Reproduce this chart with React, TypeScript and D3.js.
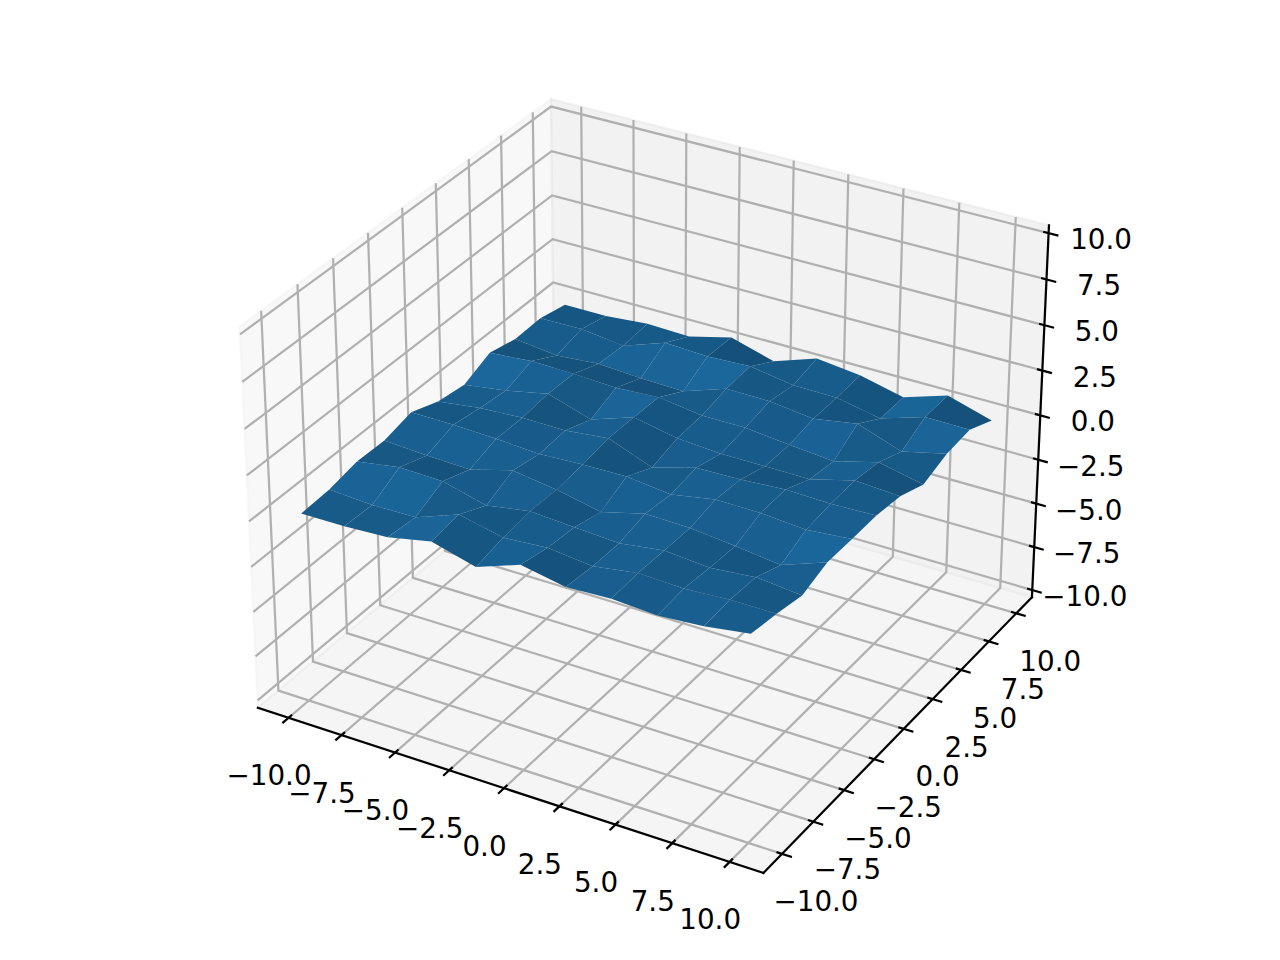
import React from "react";
import * as d3 from "d3";

const gridX = [-10, -8, -6, -4, -2, 0, 2, 4, 6, 8, 10];
const gridY = [-10, -8, -6, -4, -2, 0, 2, 4, 6, 8, 10];
// one row per y value, left to right along x
const zRow0 = [0.05, 0.07, 0.19, 0.69, 0.04, 0.89, 0.43, 0.55, 0.4, 0.58, 0.93];
const zRow1 = [0.14, 0.0, 0.04, 0.9, 0.37, 0.55, 0.27, 0.65, 0.55, 0.69, 0.69];
const zRow2 = [0.46, 0.85, 0.78, 0.16, 0.56, 0.41, 0.26, 0.59, 0.39, 0.62, 0.38];
const zRow3 = [0.42, 0.28, 0.21, 0.86, 0.5, 0.0, 0.61, 0.56, 0.3, 0.0, 0.88];
const zRow4 = [0.81, 0.79, 0.71, 0.55, 0.67, 0.71, 0.43, 0.87, 0.85, 0.66, 0.88];
const zRow5 = [0.23, 0.54, 0.68, 0.66, 0.92, 0.0, 0.68, 0.74, 0.89, 0.82, 0.9];
const zRow6 = [0.0, 0.35, 0.85, 0.08, 0.9, 0.41, 0.24, 0.25, 0.23, 0.87, 0.72];
const zRow7 = [0.65, 0.85, 0.8, 0.69, 0.83, 0.49, 0.49, 0.24, 0.01, 0.66, 0.14];
const zRow8 = [0.3, 0.01, 0.21, 0.06, 0.0, 0.81, 0.79, 0.49, 0.9, 0.05, 0.62];
const zRow9 = [0.34, 0.39, 0.09, 0.92, 0.8, 0.91, 0.51, 0.49, 0.0, 0.77, 0.75];
const zRow10 = [0.0, 0.0, 0.2, 0.13, 0.73, 0.04, 0.86, 0.58, 0.02, 0.8, 0.08];
const zRows = [zRow0, zRow1, zRow2, zRow3, zRow4, zRow5, zRow6, zRow7, zRow8, zRow9, zRow10];
const tickValues = [-10, -7.5, -5, -2.5, 0, 2.5, 5, 7.5, 10];

const XY_LIM = 11, Z_LIM = 10;
const XY_EDGE = 11.4583, Z_EDGE = 10.4167;
const TICK_DELTA = 1.91;
const BOX = [1.14286, 1.14286, 0.85714];

const wx = d3.scaleLinear().domain([-XY_LIM, XY_LIM]).range([0, BOX[0]]);
const wy = d3.scaleLinear().domain([-XY_LIM, XY_LIM]).range([0, BOX[1]]);
const wz = d3.scaleLinear().domain([-Z_LIM, Z_LIM]).range([0, BOX[2]]);
const px = d3.scaleLinear().domain([0, 1]).range([652.1, 652.1 + 4864]);
const py = d3.scaleLinear().domain([0, 1]).range([467.4, 467.4 - 4867]);

const R = BOX.map((b) => b / 2);
const elev = (30 * Math.PI) / 180, azim = (-60 * Math.PI) / 180, dist = 10;
const W = [Math.cos(elev) * Math.cos(azim), Math.cos(elev) * Math.sin(azim), Math.sin(elev)];
const EYE = R.map((r, i) => r + dist * W[i]);
const U = [-W[1], W[0], 0].map((v) => v / Math.hypot(W[0], W[1]));
const V = [W[1] * U[2] - W[2] * U[1], W[2] * U[0] - W[0] * U[2], W[0] * U[1] - W[1] * U[0]];
const dot = (a: number[], b: number[]) => a[0] * b[0] + a[1] * b[1] + a[2] * b[2];

function view(x: number, y: number, z: number) {
  const d = [wx(x) - EYE[0], wy(y) - EYE[1], wz(z) - EYE[2]];
  return { xe: dot(U, d), ye: dot(V, d), ze: dot(W, d) };
}
function proj(x: number, y: number, z: number): [number, number] {
  const { xe, ye, ze } = view(x, y, z);
  return [px(xe / -ze), py(ye / -ze)];
}
const lineGen = d3.line<[number, number, number]>()
  .x((p) => proj(p[0], p[1], p[2])[0])
  .y((p) => proj(p[0], p[1], p[2])[1]);
const closed = (pts: [number, number, number][]) => lineGen(pts) + "Z";

const LIGHT = [-0.6667, -0.6667, 0.3333];
const shadeIn = d3.scaleLinear().domain([-1, 1]).range([0.3, 1]);
const BASE = d3.rgb("#1f77b4");

type Cell = { d: string; fill: string; depth: number };
const cells: Cell[] = [];
for (let j = 0; j < gridY.length - 1; j++) {
  for (let i = 0; i < gridX.length - 1; i++) {
    const q: [number, number, number][] = [
      [gridX[i], gridY[j], zRows[j][i]],
      [gridX[i + 1], gridY[j], zRows[j][i + 1]],
      [gridX[i + 1], gridY[j + 1], zRows[j + 1][i + 1]],
      [gridX[i], gridY[j + 1], zRows[j + 1][i]],
    ];
    const a = [q[0][0] - q[1][0], q[0][1] - q[1][1], q[0][2] - q[1][2]];
    const b = [q[1][0] - q[2][0], q[1][1] - q[2][1], q[1][2] - q[2][2]];
    const n = [a[1] * b[2] - a[2] * b[1], a[2] * b[0] - a[0] * b[2], a[0] * b[1] - a[1] * b[0]];
    const k = shadeIn(dot(n, LIGHT) / Math.hypot(n[0], n[1], n[2]));
    const fill = `rgb(${BASE.r * k},${BASE.g * k},${BASE.b * k})`;
    const depth = d3.mean(q, (p) => view(p[0], p[1], p[2]).ze) as number;
    cells.push({ d: closed(q), fill, depth });
  }
}
cells.sort((a, b) => a.depth - b.depth);

const E = XY_EDGE, Z = Z_EDGE;
const panes = [
  { pts: [[-E, -E, -Z], [-E, E, -Z], [-E, E, Z], [-E, -E, Z]], c: "rgba(242,242,242,0.5)" },
  { pts: [[-E, E, -Z], [E, E, -Z], [E, E, Z], [-E, E, Z]], c: "rgba(230,230,230,0.5)" },
  { pts: [[-E, -E, -Z], [E, -E, -Z], [E, E, -Z], [-E, E, -Z]], c: "rgba(236,236,236,0.5)" },
] as { pts: [number, number, number][]; c: string }[];

const GRID = "#b0b0b0";
const LW = 2.22;
const FONT = { fontFamily: "'DejaVu Sans'", fontSize: 27.78, fill: "#000" };
const fmt = (t: number) => (t < 0 ? "\u2212" : "") + Math.abs(t).toFixed(1);

function Label({ at, dx, dy, t }: { at: [number, number]; dx: number; dy: number; t: number }) {
  return (
    <text x={at[0] + dx} y={at[1] + dy} textAnchor="middle" dominantBaseline="central" style={FONT}>
      {fmt(t)}
    </text>
  );
}

export default function App() {
  return (
    <svg width={1280} height={960} viewBox="0 0 1280 960"
      style={{ position: "absolute", left: 0, top: 0, background: "#fff" }}>
      {panes.map((p, i) => (
        <path key={i} d={closed(p.pts)} fill={p.c} stroke={p.c} strokeWidth={LW} />
      ))}
      {tickValues.map((t) => (
        <g key={"g" + t} fill="none" stroke={GRID} strokeWidth={LW}>
          <path d={lineGen([[t, -E, -Z], [t, E, -Z], [t, E, Z]])!} />
          <path d={lineGen([[E, t, -Z], [-E, t, -Z], [-E, t, Z]])!} />
          <path d={lineGen([[-E, -E, t], [-E, E, t], [E, E, t]])!} />
        </g>
      ))}
      <g fill="none" stroke="#000" strokeWidth={LW} strokeLinecap="square">
        <path d={lineGen([[-E, -E, -Z], [E, -E, -Z]])!} />
        <path d={lineGen([[E, -E, -Z], [E, E, -Z]])!} />
        <path d={lineGen([[E, E, -Z], [E, E, Z]])!} />
        {tickValues.map((t) => (
          <g key={"t" + t}>
            <path d={lineGen([[t, -E - 0.2 * TICK_DELTA, -Z], [t, -E + 0.1 * TICK_DELTA, -Z]])!} />
            <path d={lineGen([[E + 0.2 * TICK_DELTA, t, -Z], [E - 0.1 * TICK_DELTA, t, -Z]])!} />
            <path d={lineGen([[E + 0.2 * TICK_DELTA, E, t], [E - 0.1 * TICK_DELTA, E, t]])!} />
          </g>
        ))}
      </g>
      {cells.map((c, i) => (
        <path key={i} d={c.d} fill={c.fill} />
      ))}
      {tickValues.map((t) => (
        <g key={"l" + t}>
          <Label at={proj(t, -E, -Z)} dx={-19.5} dy={58} t={t} />
          <Label at={proj(E, t, -Z)} dx={34} dy={48} t={t} />
          <Label at={proj(E, E, t)} dx={52.5} dy={6.5} t={t} />
        </g>
      ))}
    </svg>
  );
}
